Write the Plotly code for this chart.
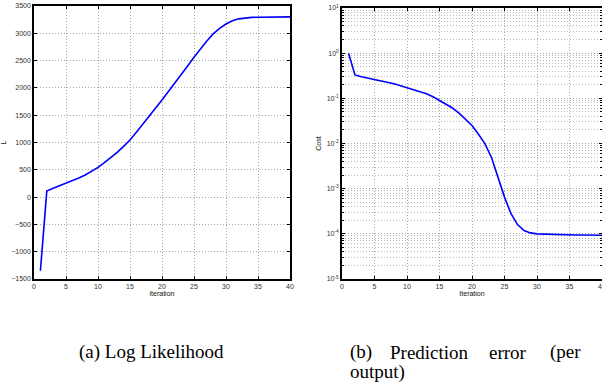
import plotly.graph_objects as go

# ---- data ----
iterations = list(range(1, 41))
log_likelihood = [-1350, 110, 160, 205, 250, 300, 350, 405, 470, 545,
                  630, 720, 820, 930, 1045, 1190, 1330, 1480, 1630, 1780,
                  1930, 2080, 2240, 2400, 2560, 2715, 2860, 2990, 3090, 3170,
                  3230, 3265, 3283, 3291, 3295, 3297, 3298, 3299, 3300, 3300]
cost = [1.0, 0.33, 0.30, 0.28, 0.264, 0.245, 0.228, 0.21, 0.19, 0.173,
        0.157, 0.141, 0.126, 0.108, 0.09, 0.075, 0.061, 0.047, 0.035, 0.025,
        0.016, 0.0098, 0.0049, 0.0018, 0.00065, 0.00028, 0.00016, 0.000118, 0.000105, 0.0001,
        0.0000985, 0.000097, 0.0000962, 0.0000955, 0.000095, 0.0000945, 0.000094, 0.0000935, 0.000093, 0.000093]

x_ticks = [0, 5, 10, 15, 20, 25, 30, 35, 40]
l_ticks = [-1500, -1000, -500, 0, 500, 1000, 1500, 2000, 2500, 3000, 3500]
cost_tickvals = [1e-5, 1e-4, 1e-3, 1e-2, 1e-1, 1, 10]
cost_ticktext = ["10<sup>-5</sup>", "10<sup>-4</sup>", "10<sup>-3</sup>", "10<sup>-2</sup>",
                 "10<sup>-1</sup>", "10<sup>0</sup>", "10<sup>1</sup>"]
caption_a = "(a) Log Likelihood"
caption_b_words = ["(b)", "Prediction", "error", "(per"]
caption_b_line2 = "output)"

W, H = 602, 387
def px(x): return x / W
def py(y): return (H - y) / H

minor_vals = [m * 10.0 ** e for e in range(-5, 1) for m in range(2, 10)]

fig = go.Figure()
fig.add_trace(go.Scatter(x=iterations, y=log_likelihood, mode="lines",
                         line=dict(color="#0000ff", width=1.6),
                         xaxis="x", yaxis="y", showlegend=False))
fig.add_trace(go.Scatter(x=iterations, y=cost, mode="lines",
                         line=dict(color="#0000ff", width=1.6),
                         xaxis="x2", yaxis="y2", showlegend=False))

tickfont = dict(family="Liberation Sans, Arial, sans-serif", size=7, color="#333")
titlefont = dict(family="Liberation Sans, Arial, sans-serif", size=7, color="#111")
grid = dict(showgrid=True, gridcolor="#a8a8a8", gridwidth=1, griddash="1px,2px")
axline = dict(showline=True, linecolor="black", linewidth=1.5, mirror="ticks",
              ticks="inside", ticklen=3, tickcolor="black", zeroline=False,
              automargin=False)

fig.update_layout(
    width=W, height=H,
    margin=dict(l=0, r=0, t=0, b=0),
    paper_bgcolor="white", plot_bgcolor="white",
    xaxis=dict(domain=[px(34), px(290)], range=[0, 40], tickvals=x_ticks,
               tickfont=tickfont, anchor="y",
               title=dict(text="iteration", font=titlefont, standoff=2),
               **grid, **axline),
    yaxis=dict(domain=[py(279), py(6)], range=[-1500, 3500], tickvals=l_ticks,
               tickfont=tickfont, anchor="x",
               title=dict(text="L", font=titlefont, standoff=6),
               **grid, **axline),
    xaxis2=dict(domain=[px(342), px(602)], range=[0, 40], tickvals=x_ticks,
                tickfont=tickfont, anchor="y2", ticklabeloverflow="allow",
                title=dict(text="Iteration", font=titlefont, standoff=2),
                **grid, **axline),
    yaxis2=dict(domain=[py(279), py(8)], type="log", range=[-5, 1],
                tickvals=cost_tickvals, ticktext=cost_ticktext,
                tickfont=tickfont, anchor="x2",
                title=dict(text="Cost", font=titlefont, standoff=4),
                minor=dict(tickmode="array", tickvals=minor_vals, showgrid=True,
                           gridcolor="#b8b8b8", gridwidth=1, griddash="1px,2px",
                           ticks="inside", ticklen=2, tickcolor="black"),
                **grid, **axline),
)

capfont = dict(family="Liberation Serif, Times New Roman, serif", size=19, color="black")
fig.add_annotation(x=px(151), y=py(352), xref="paper", yref="paper", text=caption_a,
                   showarrow=False, font=capfont, xanchor="center", yanchor="middle")
word_x = [348, 388, 487, 583]
for i, w in enumerate(caption_b_words):
    fig.add_annotation(x=px(word_x[i]), y=py(352), xref="paper", yref="paper", text=w,
                       showarrow=False, font=capfont,
                       xanchor="right" if i == len(caption_b_words) - 1 else "left",
                       yanchor="middle")
fig.add_annotation(x=px(348), y=py(372), xref="paper", yref="paper", text=caption_b_line2,
                   showarrow=False, font=capfont, xanchor="left", yanchor="middle")

fig.write_html("out.html", config={"displayModeBar": False},
               post_script="document.body.style.margin='0px';document.body.style.overflow='hidden';")
